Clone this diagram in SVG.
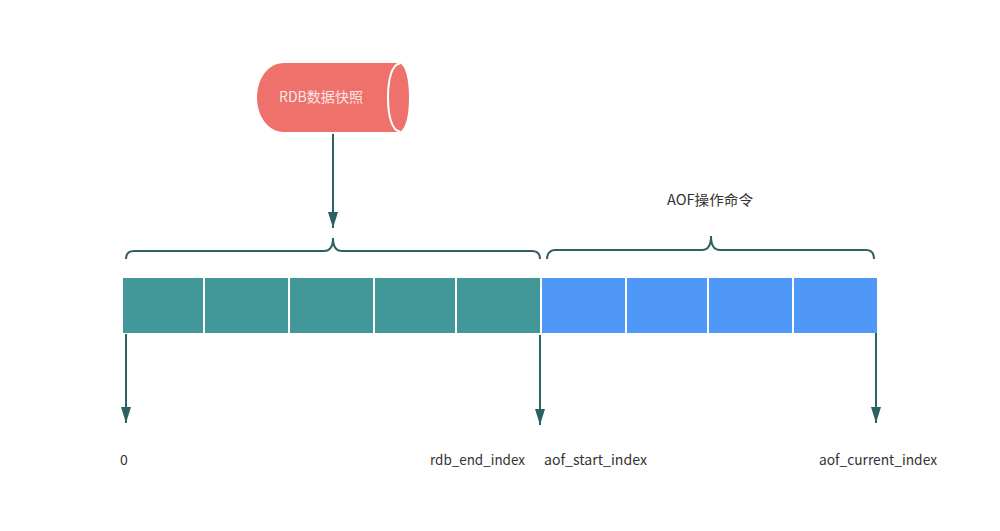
<svg xmlns="http://www.w3.org/2000/svg" width="1000" height="531" viewBox="0 0 1000 531">
<style>
text{font-family:"Noto Sans CJK SC","Noto Sans",sans-serif;font-size:14px;fill:#333}
.teal{fill:#429899}
.blue{fill:#4f98f7}
.line{fill:none;stroke:#2f6163;stroke-width:2}
</style>
<defs>
<marker id="arrow" markerUnits="userSpaceOnUse" markerWidth="16" markerHeight="10" refX="16" refY="5" orient="auto" viewBox="0 0 16 10"><path d="M0 0L16 5L0 10Z" fill="#2a6264"/></marker>
</defs>
<rect width="1000" height="531" fill="#fff"/>
<g id="cylinder">
<path d="M284 63H398C405 63 409 78 409 97.500C409 117 405 132 398 132H284C268 132 257 116 257 97.500C257 79 268 63 284 63Z" fill="#ef716b"/>
<path d="M400 63.500C392 64 388 79 388 97.500C388 116 392 131 400 131.500" fill="none" stroke="#fff" stroke-width="2"/>
<text x="279" y="102" textLength="84" lengthAdjust="spacingAndGlyphs" style="fill:#fbe6e4">RDB数据快照</text>
</g>
<g id="cells-rdb" class="teal">
<rect x="123" y="278" width="80" height="55"/>
<rect x="205" y="278" width="83" height="55"/>
<rect x="290" y="278" width="83" height="55"/>
<rect x="375" y="278" width="80" height="55"/>
<rect x="457" y="278" width="83" height="55"/>
</g>
<g id="cells-aof" class="blue">
<rect x="542" y="278" width="83" height="55"/>
<rect x="627" y="278" width="80" height="55"/>
<rect x="709" y="278" width="83" height="55"/>
<rect x="794" y="278" width="83" height="55"/>
</g>
<g id="connectors" class="line">
<path d="M126 259C126 254 129 251 134 251H324C330 251 333 247 333 238C333 247 336 251 342 251H532C537 251 540 254 540 259"/>
<path d="M547 259C547 254 550 250 555 250H702C708 250 711 246 711 236C711 246 714 250 720 250H866C871 250 874 253 874 259"/>
<path d="M333 134V228" marker-end="url(#arrow)"/>
<path d="M126 334V423" marker-end="url(#arrow)"/>
<path d="M540 335V425" marker-end="url(#arrow)"/>
<path d="M876 333V423" marker-end="url(#arrow)"/>
</g>
<g id="labels">
<text x="667" y="205" textLength="86" lengthAdjust="spacingAndGlyphs">AOF操作命令</text>
<text x="120" y="465">0</text>
<text x="430" y="465" textLength="95" lengthAdjust="spacingAndGlyphs">rdb_end_index</text>
<text x="544" y="465" textLength="103" lengthAdjust="spacingAndGlyphs">aof_start_index</text>
<text x="819" y="465" textLength="118" lengthAdjust="spacingAndGlyphs">aof_current_index</text>
</g>
</svg>
